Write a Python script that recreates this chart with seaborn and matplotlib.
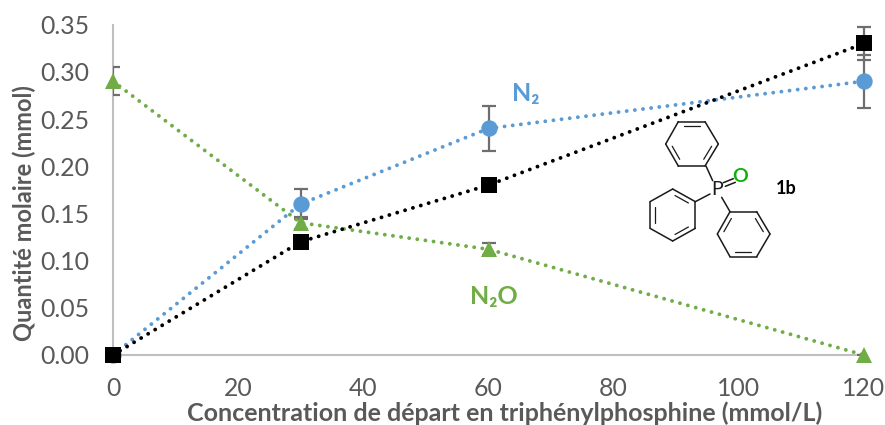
import numpy as np
import pandas as pd
import seaborn as sns
import matplotlib.pyplot as plt
from matplotlib.lines import Line2D

# values
conc = [0, 30, 60, 120]
n2 = [0.0, 0.16, 0.24, 0.29]
n2_err = [0.0, 0.016, 0.024, 0.028]
n2o = [0.29, 0.14, 0.112, 0.0]
n2o_err = [0.015, 0.0065, 0.0065, 0.0]
opph3 = [0.0, 0.12, 0.18, 0.33]
opph3_err = [0.0, 0.002, 0.0065, 0.017]
xticks = [0, 20, 40, 60, 80, 100, 120]
yticks = [0.0, 0.05, 0.10, 0.15, 0.20, 0.25, 0.30, 0.35]

BLUE = '#5B9BD5'
GREEN = '#70AD47'
GREY = '#595959'
W, H = 885, 425

sns.set_style('white')
plt.rcParams['font.family'] = ['Lato', 'DejaVu Sans']

fig = plt.figure(figsize=(W / 100, H / 100), dpi=100)
ax = fig.add_axes([113 / W, (H - 355) / H, 751 / W, 330.4 / H])

dots = (0, (0.01, 2.1))
series = [(n2, n2_err, BLUE, 'o', 11.8),
          (n2o, n2o_err, GREEN, '^', 11.8),
          (opph3, opph3_err, 'black', 's', 11)]

for vals, errs, col, mk, ms in series:
    # the green bar at x=0 is cut by the axis in the original
    ax.errorbar(conc, vals, yerr=errs, fmt='none', ecolor='#6E6E6E', elinewidth=1.6,
                capsize=4.8, capthick=1.6, zorder=3, clip_on=(col == GREEN))
for i, (vals, errs, col, mk, ms) in enumerate(series):
    df = pd.DataFrame({'conc': conc, 'val': vals})
    line = sns.lineplot(data=df, x='conc', y='val', color=col, linewidth=2.8, ax=ax, zorder=4 + i,
                        marker=mk, markersize=ms, markeredgewidth=0, clip_on=False, errorbar=None)
    l = line.lines[-1]
    l.set_linestyle(dots)
    l.set_dash_capstyle('round')
    l.set_markerfacecolor(col)
    l.set_markeredgecolor(col)

ax.set_xlim(0, 120)
ax.set_ylim(0, 0.35)
ax.set_xticks(xticks)
ax.set_yticks(yticks)
ax.set_yticklabels(['%.2f' % v for v in yticks])
ax.tick_params(length=0, labelsize=17.8, labelcolor=GREY)
ax.tick_params(axis='y', pad=17)
ax.tick_params(axis='x', pad=16)
ax.set_xlabel('')
ax.set_ylabel('')
for s in ['top', 'right']:
    ax.spines[s].set_visible(False)
for s in ['left', 'bottom']:
    ax.spines[s].set_color('#BFBFBF')
    ax.spines[s].set_linewidth(1.5)


def px(x, y):
    return x / W, 1 - y / H


fig.text(*px(505, 413), 'Concentration de départ en triphénylphosphine (mmol/L)', fontsize=18,
         fontweight='bold', color=GREY, ha='center', va='center')
fig.text(*px(24, 213), 'Quantité molaire (mmol)', fontsize=17, fontweight='bold', color=GREY,
         rotation=90, ha='center', va='center')
fig.text(*px(512, 101), 'N\u2082', fontsize=18, fontweight='bold', color=BLUE, ha='left', va='baseline')
fig.text(*px(470, 304), 'N\u2082O', fontsize=18, fontweight='bold', color=GREEN, ha='left', va='baseline')


# triphenylphosphine oxide sketch, coordinates are zoomed crop pixels
def zoom_px(p):
    return px(620 + p[0] / 3, 20 + p[1] / 3)


def bond(a, b, lw=1.1):
    (x0, y0), (x1, y1) = zoom_px(a), zoom_px(b)
    fig.add_artist(Line2D([x0, x1], [y0, y1], color='#1a1a1a', lw=lw, solid_capstyle='round'))


rings = [
    ([(175, 305), (255, 305), (295, 372), (255, 438), (175, 438), (137, 372)], [0, 2, 4]),
    ([(158, 507), (226, 545), (226, 625), (158, 663), (90, 625), (90, 545)], [0, 2, 4]),
    ([(330, 575), (410, 575), (450, 642), (410, 710), (330, 710), (292, 642)], [1, 3, 5]),
]
for verts, doubles in rings:
    v = np.array(verts, dtype=float)
    c = v.mean(axis=0)
    for k in range(6):
        a, b = v[k], v[(k + 1) % 6]
        bond(a, b)
        if k in doubles:
            ia = c + (a + (b - a) * 0.13 - c) * 0.8
            ib = c + (b + (a - b) * 0.13 - c) * 0.8
            bond(ia, ib, lw=0.9)

bond((258, 438), (278, 482))
bond((226, 545), (270, 522))
bond((330, 575), (305, 532))
bond((310, 488), (340, 476))
bond((316, 499), (346, 487))
fig.text(*px(716.7, 190), 'P', fontsize=14, color='#1a1a1a', ha='center', va='center')
fig.text(*px(740, 176.5), 'O', fontsize=14, color='#0DB00D', fontweight='bold', ha='center', va='center')
fig.text(*px(786, 188.7), '1b', fontsize=13, color='black', fontweight='bold', ha='center', va='center')

fig.savefig('out.png', dpi=100)
